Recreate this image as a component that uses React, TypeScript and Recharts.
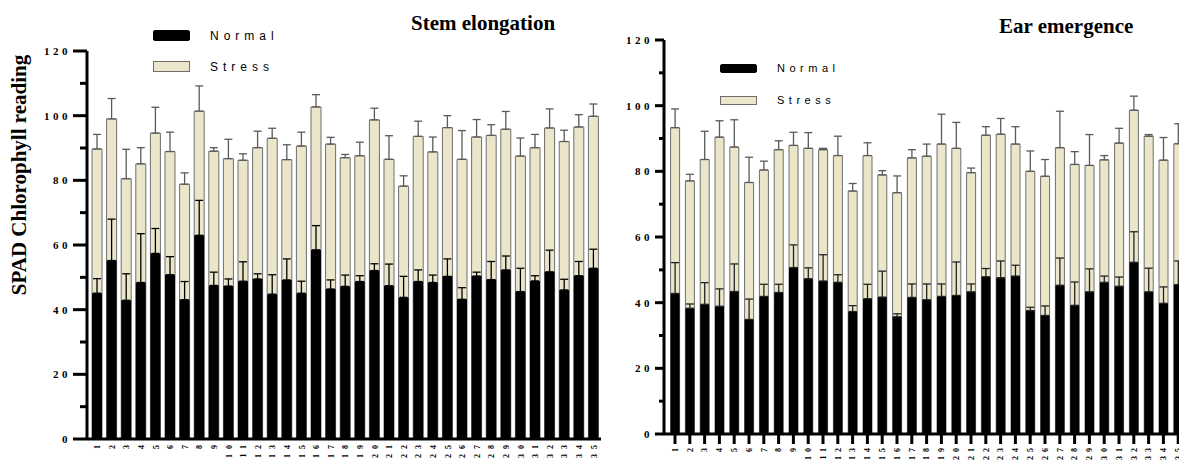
import { Bar, BarChart, ErrorBar, Legend, XAxis, YAxis } from 'recharts';

const categories = [
  '1', '2', '3', '4', '5', '6', '7', '8', '9', '10', '11', '12', '13', '14', '15', '16', '17', '18',
  '19', '20', '21', '22', '23', '24', '25', '26', '27', '28', '29', '30', '31', '32', '33', '34', '35',
];

const yTicks = [0, 10, 20, 30, 40, 50, 60, 70, 80, 90, 100, 110, 120];

// Stem elongation
const stemStress = [
  89.7, 99.0, 80.5, 85.1, 94.6, 88.9, 78.8, 101.4, 89.0, 86.7, 86.2, 90.1, 93.0, 86.4, 90.6, 102.7, 91.2, 87.0,
  87.6, 98.7, 86.5, 78.2, 93.6, 88.8, 96.3, 86.5, 93.4, 93.9, 95.8, 87.5, 90.1, 96.2, 92.0, 96.5, 99.8,
];
const stemStressErr = [
  4.5, 6.3, 9.1, 5.0, 8.0, 6.0, 3.5, 7.8, 1.1, 6.0, 2.0, 5.1, 3.1, 4.6, 4.3, 3.8, 2.1, 1.0,
  4.2, 3.6, 7.3, 3.2, 4.7, 4.6, 3.7, 8.9, 5.4, 3.3, 5.5, 5.6, 4.1, 5.9, 3.5, 3.8, 3.8,
];
const stemNormal = [
  45.1, 55.2, 42.9, 48.4, 57.4, 50.8, 43.1, 63.0, 47.5, 47.3, 48.8, 49.5, 44.8, 49.2, 45.1, 58.5, 46.4, 47.2,
  48.7, 52.1, 47.4, 43.8, 48.7, 48.4, 50.3, 43.2, 50.4, 49.3, 52.3, 45.6, 48.9, 51.7, 46.1, 50.5, 52.8,
];
const stemNormalErr = [
  4.5, 12.8, 8.2, 15.1, 7.7, 5.6, 5.6, 10.8, 4.1, 2.2, 6.0, 1.6, 6.0, 6.5, 3.7, 7.5, 2.8, 3.5,
  1.8, 2.1, 6.7, 6.5, 3.6, 2.3, 5.4, 3.6, 1.2, 5.6, 4.3, 7.2, 1.6, 6.7, 3.3, 4.4, 5.9,
];

// Ear emergence
const earStress = [
  93.3, 77.1, 83.6, 90.4, 87.4, 76.6, 80.4, 86.6, 87.9, 87.0, 86.6, 84.8, 74.0, 84.8, 78.9, 73.5, 84.1, 84.6,
  88.3, 87.0, 79.6, 91.0, 91.3, 88.3, 80.0, 78.5, 87.2, 82.1, 81.8, 83.5, 88.6, 98.6, 90.7, 83.4, 88.4,
];
const earStressErr = [
  5.7, 2.0, 8.6, 5.0, 8.3, 7.7, 2.7, 2.7, 4.0, 4.8, 0.4, 5.9, 2.3, 3.9, 1.3, 5.1, 2.5, 3.7,
  9.1, 7.9, 1.4, 2.6, 4.8, 5.3, 6.2, 5.1, 11.1, 3.9, 9.4, 1.3, 4.5, 4.3, 0.5, 6.9, 6.1,
];
const earNormal = [
  42.8, 38.3, 39.5, 38.9, 43.4, 34.9, 41.9, 43.1, 50.7, 47.3, 46.6, 46.2, 37.3, 41.2, 41.7, 35.7, 41.6, 40.9,
  41.9, 42.2, 43.3, 47.9, 47.6, 48.1, 37.6, 36.1, 45.3, 39.2, 43.3, 46.2, 45.0, 52.3, 43.3, 39.8, 45.5,
];
const earNormalErr = [
  9.4, 1.3, 6.6, 5.3, 8.4, 6.2, 3.7, 2.5, 6.9, 3.3, 8.0, 2.3, 1.8, 4.4, 7.9, 0.9, 4.1, 4.8,
  3.8, 10.2, 2.4, 2.5, 5.1, 3.3, 1.0, 2.9, 8.3, 7.1, 7.0, 1.9, 2.8, 9.3, 7.2, 5.0, 7.2,
];

const BEIGE = '#ebe6ca';
const SERIF = '"Liberation Serif", "Times New Roman", serif';
const SANS = '"Liberation Sans", Arial, sans-serif';

const buildRows = (stress: number[], stressErr: number[], normal: number[], normalErr: number[]) =>
  categories.map((id, i) => ({
    id,
    stress: stress[i],
    stressErr: [0, stressErr[i]],
    normal: normal[i],
    normalErr: [0, normalErr[i]],
  }));

const stemRows = buildRows(stemStress, stemStressErr, stemNormal, stemNormalErr);
const earRows = buildRows(earStress, earStressErr, earNormal, earNormalErr);

interface PanelProps {
  rows: ReturnType<typeof buildRows>;
  left: number;
  margin: { top: number; right: number; bottom: number; left: number };
  padLeft: number;
  xHeight: number;
  xTickSize: number;
  labelOffset: number;
  labelSpacing: number;
  majorTick: number;
  minorTick: number;
  labelGap: number;
  barSize: number;
  legend: { left: number; top: number; swatchW: number; swatchH: number; rowGap: number; fontSize: number; spacing: number };
  normalErrColor: string;
}

function Panel(p: PanelProps) {
  const renderYTick = (props: any) => {
    const { x, y, payload } = props;
    const v = payload.value as number;
    const major = v % 20 === 0;
    return (
      <g>
        <line x1={x - (major ? p.majorTick : p.minorTick)} x2={x} y1={y} y2={y} stroke="#000" strokeWidth={3} />
        {major && (
          <text
            x={x - p.labelGap}
            y={y}
            dy="0.36em"
            textAnchor="end"
            fontFamily={SERIF}
            fontWeight="bold"
            fontSize={11}
            letterSpacing={3.5}
            fill="#000"
          >
            {v}
          </text>
        )}
      </g>
    );
  };

  const renderXTick = (props: any) => {
    const { x, y, payload } = props;
    return (
      <text
        transform={`translate(${x},${y + p.labelOffset}) rotate(-90)`}
        dy="0.35em"
        textAnchor="end"
        fontFamily={SERIF}
        fontWeight="bold"
        fontSize={8}
        letterSpacing={p.labelSpacing}
        fill="#000"
      >
        {payload.value}
      </text>
    );
  };

  const renderLegend = (props: any) => {
    const items = [...(props.payload || [])].sort((a: any, b: any) =>
      a.dataKey === 'normal' ? -1 : b.dataKey === 'normal' ? 1 : 0,
    );
    return (
      <div style={{ position: 'relative' }}>
        {items.map((entry: any, i: number) => {
          const isStress = entry.dataKey === 'stress';
          return (
            <div
              key={entry.value}
              style={{ display: 'flex', alignItems: 'center', height: p.legend.swatchH, marginBottom: i === 0 ? p.legend.rowGap : 0 }}
            >
              <div
                style={{
                  width: p.legend.swatchW,
                  height: p.legend.swatchH,
                  boxSizing: 'border-box',
                  background: isStress ? BEIGE : '#000',
                  border: isStress ? '1.5px solid #6e6e6e' : '1px solid #000',
                  borderRadius: isStress ? 0 : 2,
                }}
              />
              <span
                style={{
                  marginLeft: 20,
                  fontFamily: SANS,
                  fontSize: p.legend.fontSize,
                  letterSpacing: p.legend.spacing,
                  color: '#000',
                  lineHeight: 1,
                }}
              >
                {entry.value}
              </span>
            </div>
          );
        })}
      </div>
    );
  };

  return (
    <div style={{ position: 'absolute', left: p.left, top: 0 }}>
      <BarChart width={610} height={461} data={p.rows} margin={p.margin} barGap={-p.barSize} barSize={p.barSize}>
        <XAxis
          dataKey="id"
          height={p.xHeight}
          padding={{ left: p.padLeft, right: 0 }}
          axisLine={{ stroke: '#000', strokeWidth: 3 }}
          tickLine={p.xTickSize > 0 ? { stroke: '#000', strokeWidth: 3 } : false}
          tickSize={p.xTickSize}
          tickMargin={0}
          interval={0}
          tick={renderXTick}
        />
        <YAxis
          width={60}
          domain={[0, 120]}
          ticks={yTicks}
          interval={0}
          allowDataOverflow
          axisLine={{ stroke: '#000', strokeWidth: 3 }}
          tickLine={false}
          tickSize={0}
          tickMargin={0}
          tick={renderYTick}
        />
        <Legend
          layout="horizontal"
          verticalAlign="middle"
          align="center"
          content={renderLegend}
          wrapperStyle={{ left: p.legend.left, top: p.legend.top, width: 160, height: 'auto' }}
        />
        <Bar dataKey="stress" name="Stress" fill={BEIGE} stroke="#6e6e6e" strokeWidth={1} isAnimationActive={false}>
          <ErrorBar dataKey="stressErr" direction="y" width={4} stroke="#5a5a5a" strokeWidth={1.3} />
        </Bar>
        <Bar dataKey="normal" name="Normal" fill="#000" isAnimationActive={false}>
          <ErrorBar dataKey="normalErr" direction="y" width={4} stroke={p.normalErrColor} strokeWidth={1.3} />
        </Bar>
      </BarChart>
    </div>
  );
}

export default function App() {
  return (
    <div
      style={{ position: 'fixed', left: 0, top: 0, width: 1179, height: 461, overflow: 'hidden', background: '#fff' }}
    >
      <Panel
        rows={stemRows}
        left={0}
        margin={{ top: 51, right: 9, bottom: 0, left: 27 }}
        padLeft={3}
        xHeight={22}
        xTickSize={0}
        labelOffset={1}
        labelSpacing={5}
        majorTick={14}
        minorTick={7}
        labelGap={16}
        barSize={10}
        legend={{ left: 153, top: 30, swatchW: 37, swatchH: 11, rowGap: 20, fontSize: 12, spacing: 5 }}
        normalErrColor="#000"
      />
      <Panel
        rows={earRows}
        left={590}
        margin={{ top: 40, right: 14.4, bottom: 0, left: 14 }}
        padLeft={3.6}
        xHeight={27}
        xTickSize={10}
        labelOffset={0}
        labelSpacing={4}
        majorTick={9}
        minorTick={5}
        labelGap={11}
        barSize={9}
        legend={{ left: 130, top: 64, swatchW: 37, swatchH: 9, rowGap: 23, fontSize: 11, spacing: 4.5 }}
        normalErrColor="#222"
      />
      <svg width={1179} height={461} style={{ position: 'absolute', left: 0, top: 0, pointerEvents: 'none' }}>
        <text x={411} y={30} fontFamily={SERIF} fontWeight="bold" fontSize={21} fill="#000">
          Stem elongation
        </text>
        <text x={999} y={33} fontFamily={SERIF} fontWeight="bold" fontSize={21} fill="#000">
          Ear emergence
        </text>
        <text
          transform="translate(26,175) rotate(-90)"
          textAnchor="middle"
          fontFamily={SERIF}
          fontWeight="bold"
          fontSize={21}
          fill="#000"
        >
          SPAD Chlorophyll reading
        </text>
      </svg>
    </div>
  );
}
